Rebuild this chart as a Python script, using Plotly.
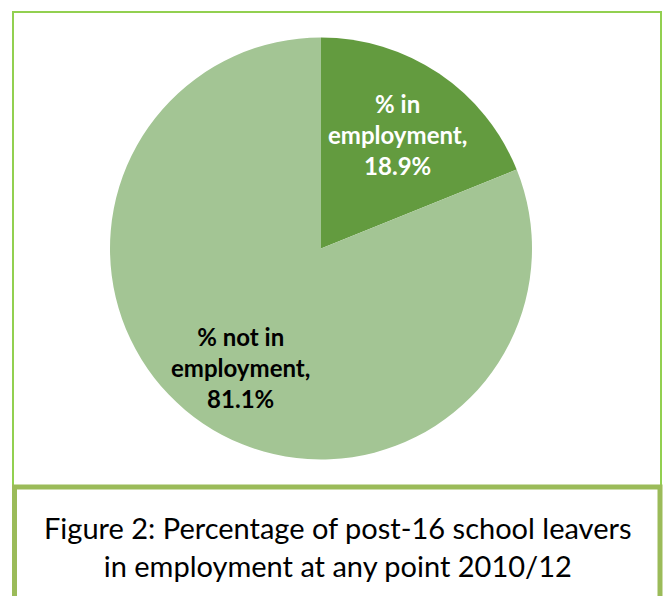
import numpy as np
import plotly.graph_objects as go

labels = ["% in<br>employment", "% not in<br>employment"]
values = [18.9, 81.1]
colors = ["#639b3f", "#a3c594"]
text_colors = ["#ffffff", "#000000"]
label_radius = [0.65, 0.68]  # fraction of pie radius where labels sit
caption = "Figure 2: Percentage of post-16 school leavers<br>in employment at any point 2010/12"

W, H = 667, 596
cx, cy, R = 321.0, 248.5, 211.0  # pie centre / radius in pixels

fig = go.Figure()
fig.add_trace(go.Pie(
    labels=labels,
    values=values,
    sort=False,
    direction="clockwise",
    rotation=0,
    marker=dict(colors=colors, line=dict(color="#ffffff", width=0)),
    textinfo="none",
    hoverinfo="label+value",
    showlegend=False,
    domain=dict(x=[(cx - R) / W, (cx + R) / W], y=[1 - (cy + R) / H, 1 - (cy - R) / H]),
))

# slice labels placed at the slice mid-angle
annotations = []
total = sum(values)
cum = 0.0
for lab, val, tc, rf in zip(labels, values, text_colors, label_radius):
    mid = (cum + val / 2) / total * 2 * np.pi
    cum += val
    px = cx + rf * R * np.sin(mid)
    py = cy - rf * R * np.cos(mid)
    annotations.append(dict(
        text=f"<b>{lab},<br>{val:.1f}%</b>", xref="paper", yref="paper",
        x=px / W, y=1 - py / H, xanchor="center", yanchor="middle",
        showarrow=False, align="center",
        font=dict(family="Lato", size=24, color=tc),
    ))

annotations.append(dict(
    text=caption, xref="paper", yref="paper",
    x=337.5 / W, y=1 - 546 / H, xanchor="center", yanchor="middle",
    showarrow=False, align="center",
    font=dict(family="Lato", size=29, color="#000000"),
))

shapes = [
    dict(type="rect", xref="paper", yref="paper",
         x0=13 / W, x1=661 / W, y0=1 - 487 / H, y1=1 - 12 / H,
         line=dict(color="#92d050", width=2), fillcolor="rgba(0,0,0,0)", layer="below"),
    dict(type="rect", xref="paper", yref="paper",
         x0=14.5 / W, x1=660 / W, y0=-0.05, y1=1 - 487 / H,
         line=dict(color="#9bbb59", width=5), fillcolor="#ffffff", layer="above"),
]

fig.update_layout(
    width=W, height=H,
    margin=dict(l=0, r=0, t=0, b=0),
    paper_bgcolor="#ffffff",
    plot_bgcolor="#ffffff",
    shapes=shapes,
    annotations=annotations,
)

fig.write_html("out.html")
